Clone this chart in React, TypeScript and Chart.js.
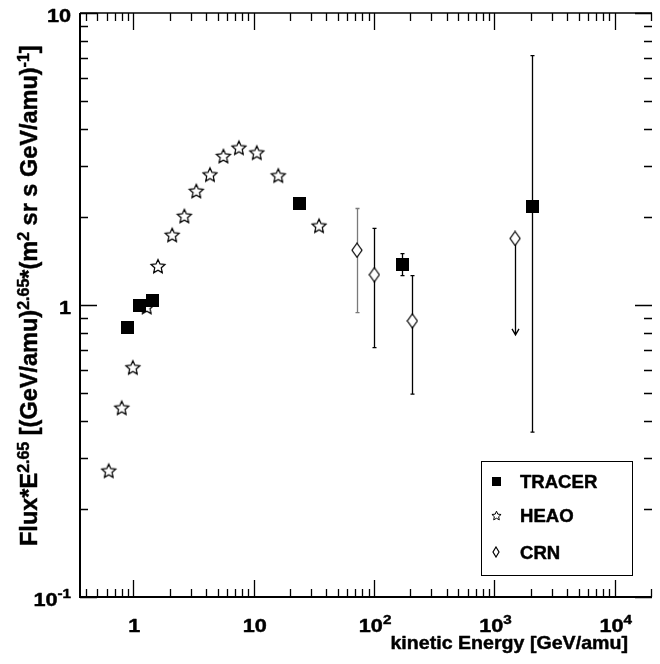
import { useEffect, useRef } from 'react';
import { Chart, registerables } from 'chart.js';

Chart.register(...registerables);

const FONT = '"Liberation Sans", Arial, Helvetica, sans-serif';

// ---- data ----
const tracerE = [0.9, 1.12, 1.44, 23.8, 172, 2060];
const tracerFlux = [0.836, 1.0, 1.034, 2.22, 1.38, 2.17];
const tracerLo: (number | null)[] = [null, null, null, null, 1.26, 0.367];
const tracerHi: (number | null)[] = [null, null, null, null, 1.5, 7.14];

const heaoE = [0.624, 0.8, 0.99, 1.29, 1.6, 2.1, 2.65, 3.33, 4.33, 5.6, 7.53, 10.6, 16.0, 34.9];
const heaoFlux = [0.271, 0.445, 0.612, 0.985, 1.36, 1.74, 2.02, 2.46, 2.8, 3.24, 3.46, 3.33, 2.78, 1.87];

const crnE = [72.1, 100.5, 208, 1486];
const crnFlux = [1.54, 1.27, 0.882, 1.69];
const crnLo = [0.941, 0.714, 0.495, 0.79];
const crnHi: (number | null)[] = [2.14, 1.83, 1.26, null];
const crnUpperLimit = [false, false, false, true];
const crnBarColor = ['#7a7a7a', '#000', '#000', '#000'];

const seriesLabels = ['TRACER', 'HEAO', 'CRN'];

const X_MIN = 0.36;
const X_MAX = 20400;
const Y_MIN = 0.1;
const Y_MAX = 10;

type Seg = { t: string; sup?: boolean };
const xMajorTicks = [1, 10, 100, 1000, 10000];
const xTickLabels: Seg[][] = [
  [{ t: '1' }],
  [{ t: '10' }],
  [{ t: '10' }, { t: '2', sup: true }],
  [{ t: '10' }, { t: '3', sup: true }],
  [{ t: '10' }, { t: '4', sup: true }],
];
const yMajorTicks = [0.1, 1, 10];
const yTickLabels: Seg[][] = [
  [{ t: '10' }, { t: '-1', sup: true }],
  [{ t: '1' }],
  [{ t: '10' }],
];
const xTitle = 'kinetic Energy [GeV/amu]';
const yTitle: Seg[] = [
  { t: 'Flux*E' },
  { t: '2.65', sup: true },
  { t: ' [(GeV/amu)' },
  { t: '2.65', sup: true },
  { t: '*(m' },
  { t: '2', sup: true },
  { t: ' sr s GeV/amu)' },
  { t: '-1', sup: true },
  { t: ']' },
];

// ---- helpers ----
function drawRich(
  ctx: CanvasRenderingContext2D,
  segs: Seg[],
  x: number,
  y: number,
  align: 'left' | 'right' | 'center',
  size: number,
  supSize: number,
  raise: number,
  sx: number
) {
  const widths = segs.map((s) => {
    ctx.font = `bold ${s.sup ? supSize : size}px ${FONT}`;
    return ctx.measureText(s.t).width * sx;
  });
  const total = widths.reduce((a, b) => a + b, 0);
  let cx = align === 'left' ? x : align === 'right' ? x - total : x - total / 2;
  segs.forEach((s, i) => {
    ctx.save();
    ctx.font = `bold ${s.sup ? supSize : size}px ${FONT}`;
    ctx.textAlign = 'left';
    ctx.textBaseline = 'alphabetic';
    ctx.fillStyle = '#000';
    ctx.strokeStyle = '#000';
    ctx.lineWidth = 0.45;
    ctx.lineJoin = 'round';
    ctx.translate(cx, y - (s.sup ? raise : 0));
    ctx.scale(sx, 1);
    ctx.fillText(s.t, 0, 0);
    ctx.strokeText(s.t, 0, 0);
    ctx.restore();
    cx += widths[i];
  });
}

function makeSquare(side: number) {
  const c = document.createElement('canvas');
  c.width = side;
  c.height = side;
  const g = c.getContext('2d')!;
  g.fillStyle = '#000';
  g.fillRect(0, 0, side, side);
  return c;
}

function makeStar(r: number, lw: number) {
  const s = Math.ceil(2 * r + 3);
  const c = document.createElement('canvas');
  c.width = s;
  c.height = s;
  const g = c.getContext('2d')!;
  const cx = s / 2;
  const cy = s / 2 + r * 0.1;
  g.beginPath();
  for (let i = 0; i < 10; i++) {
    const rr = i % 2 === 0 ? r : r * 0.47;
    const a = -Math.PI / 2 + (i * Math.PI) / 5;
    const px = cx + rr * Math.cos(a);
    const py = cy + rr * Math.sin(a);
    if (i === 0) g.moveTo(px, py);
    else g.lineTo(px, py);
  }
  g.closePath();
  g.fillStyle = '#fff';
  g.fill();
  g.lineWidth = lw;
  g.strokeStyle = '#000';
  g.stroke();
  return c;
}

function makeDiamond(w: number, h: number) {
  const c = document.createElement('canvas');
  c.width = w + 2;
  c.height = h + 2;
  const g = c.getContext('2d')!;
  const cx = (w + 2) / 2;
  const cy = (h + 2) / 2;
  g.beginPath();
  g.moveTo(cx, 1);
  g.lineTo(cx + w / 2, cy);
  g.lineTo(cx, h + 1);
  g.lineTo(cx - w / 2, cy);
  g.closePath();
  g.fillStyle = '#fff';
  g.fill();
  g.lineWidth = 1.2;
  g.strokeStyle = '#000';
  g.stroke();
  return c;
}

export default function App() {
  const ref = useRef<HTMLCanvasElement | null>(null);

  useEffect(() => {
    const canvas = ref.current;
    if (!canvas) return;

    const squareImg = makeSquare(13);
    const starImg = makeStar(7.3, 1.25);
    const diamondImg = makeDiamond(10, 14);
    const legendImgs = [makeSquare(9), makeStar(4.8, 1), makeDiamond(6, 10)];

    const errorBarPlugin = {
      id: 'errorBars',
      beforeDatasetsDraw(chart: any) {
        const ctx: CanvasRenderingContext2D = chart.ctx;
        const xs = chart.scales.x;
        const ys = chart.scales.y;
        ctx.save();
        ctx.lineWidth = 1.3;
        const bar = (x: number, lo: number, hi: number, color: string) => {
          const px = Math.round(xs.getPixelForValue(x)) + 0.5;
          const p1 = ys.getPixelForValue(lo);
          const p2 = ys.getPixelForValue(hi);
          ctx.strokeStyle = color;
          ctx.beginPath();
          ctx.moveTo(px, p1);
          ctx.lineTo(px, p2);
          ctx.moveTo(px - 2, p1);
          ctx.lineTo(px + 2, p1);
          ctx.moveTo(px - 2, p2);
          ctx.lineTo(px + 2, p2);
          ctx.stroke();
        };
        tracerE.forEach((x, i) => {
          const lo = tracerLo[i];
          const hi = tracerHi[i];
          if (lo != null && hi != null) bar(x, lo, hi, '#000');
        });
        crnE.forEach((x, i) => {
          const hi = crnHi[i];
          if (crnUpperLimit[i]) {
            const px = Math.round(xs.getPixelForValue(x)) + 0.5;
            const p1 = ys.getPixelForValue(crnFlux[i]);
            const p2 = ys.getPixelForValue(crnLo[i]);
            ctx.strokeStyle = '#000';
            ctx.beginPath();
            ctx.moveTo(px, p1);
            ctx.lineTo(px, p2);
            ctx.moveTo(px - 3.5, p2 - 6);
            ctx.lineTo(px, p2);
            ctx.lineTo(px + 3.5, p2 - 6);
            ctx.stroke();
          } else if (hi != null) {
            bar(x, crnLo[i], hi, crnBarColor[i]);
          }
        });
        ctx.restore();
      },
    };

    const framePlugin = {
      id: 'frame',
      afterDraw(chart: any) {
        const ctx: CanvasRenderingContext2D = chart.ctx;
        const xs = chart.scales.x;
        const ys = chart.scales.y;
        const a = chart.chartArea;
        ctx.save();
        ctx.strokeStyle = '#000';
        // axis lines
        ctx.lineWidth = 2;
        ctx.beginPath();
        ctx.moveTo(a.left, a.top);
        ctx.lineTo(a.left, a.bottom);
        ctx.lineTo(a.right, a.bottom);
        ctx.stroke();
        ctx.lineWidth = 1.6;
        ctx.beginPath();
        ctx.moveTo(a.left, a.top);
        ctx.lineTo(a.right, a.top);
        ctx.stroke();
        // ticks
        ctx.lineWidth = 1.3;
        const MAJ = 17;
        const MIN = 8;
        ctx.beginPath();
        for (let d = -1; d <= 4; d++) {
          for (let m = 1; m <= 9; m++) {
            const v = m * Math.pow(10, d);
            if (v < X_MIN || v > X_MAX) continue;
            const len = m === 1 ? MAJ : MIN;
            const px = Math.round(xs.getPixelForValue(v)) + 0.5;
            ctx.moveTo(px, a.bottom);
            ctx.lineTo(px, a.bottom - len);
            ctx.moveTo(px, a.top);
            ctx.lineTo(px, a.top + len);
          }
        }
        for (let d = -1; d <= 1; d++) {
          for (let m = 1; m <= 9; m++) {
            const v = m * Math.pow(10, d);
            if (v < Y_MIN || v > Y_MAX) continue;
            const len = m === 1 ? MAJ : MIN;
            const py = Math.round(ys.getPixelForValue(v)) + 0.5;
            ctx.moveTo(a.left, py);
            ctx.lineTo(a.left + len, py);
            ctx.moveTo(a.right, py);
            ctx.lineTo(a.right - len, py);
          }
        }
        ctx.stroke();

        // tick labels
        xMajorTicks.forEach((v, i) => {
          const px = xs.getPixelForValue(v);
          drawRich(ctx, xTickLabels[i], px + 1, 631.5, 'center', 18.5, 13, 7.5, 1.17);
        });
        yMajorTicks.forEach((v, i) => {
          const py = ys.getPixelForValue(v);
          drawRich(ctx, yTickLabels[i], 71, py + 8.5, 'right', 18.5, 13, 7.5, 1.17);
        });

        // x title
        drawRich(ctx, [{ t: xTitle }], 628, 649, 'right', 18.5, 12, 7, 1.06);

        // y title (rotated)
        ctx.save();
        ctx.translate(37, 546);
        ctx.rotate(-Math.PI / 2);
        drawRich(ctx, yTitle, 0, 0, 'left', 23.5, 16, 8.5, 1);
        ctx.restore();

        // legend
        ctx.lineWidth = 1;
        ctx.strokeStyle = '#000';
        ctx.strokeRect(481.5, 461.5, 151, 114);
        const rows = [481, 515, 552];
        seriesLabels.forEach((lbl, i) => {
          const img = legendImgs[i];
          ctx.drawImage(img, Math.round(496 - img.width / 2), Math.round(rows[i] - img.height / 2));
          drawRich(ctx, [{ t: lbl }], 520, rows[i] + 6.5, 'left', 17.5, 12, 7, 1.06);
        });
        ctx.restore();
      },
    };

    const chart = new Chart(canvas, {
      type: 'scatter',
      data: {
        datasets: [
          {
            label: seriesLabels[0],
            data: tracerE.map((x, i) => ({ x, y: tracerFlux[i] })),
            pointStyle: squareImg as any,
            pointRadius: 7,
          },
          {
            label: seriesLabels[1],
            data: heaoE.map((x, i) => ({ x, y: heaoFlux[i] })),
            pointStyle: starImg as any,
            pointRadius: 7,
          },
          {
            label: seriesLabels[2],
            data: crnE.map((x, i) => ({ x, y: crnFlux[i] })),
            pointStyle: diamondImg as any,
            pointRadius: 7,
          },
        ],
      },
      options: {
        animation: false,
        responsive: false,
        events: [],
        layout: { padding: { left: 80, top: 13, right: 0, bottom: 67 } },
        scales: {
          x: { type: 'logarithmic', min: X_MIN, max: X_MAX, display: false, bounds: 'data' },
          y: { type: 'logarithmic', min: Y_MIN, max: Y_MAX, display: false, bounds: 'data' },
        },
        plugins: {
          legend: { display: false },
          tooltip: { enabled: false },
        },
      },
      plugins: [errorBarPlugin, framePlugin],
    } as any);

    return () => chart.destroy();
  }, []);

  return (
    <div style={{ position: 'fixed', left: 0, top: 0, width: 660, height: 664, background: '#fff' }}>
      <canvas ref={ref} width={660} height={664} style={{ display: 'block' }} />
    </div>
  );
}
